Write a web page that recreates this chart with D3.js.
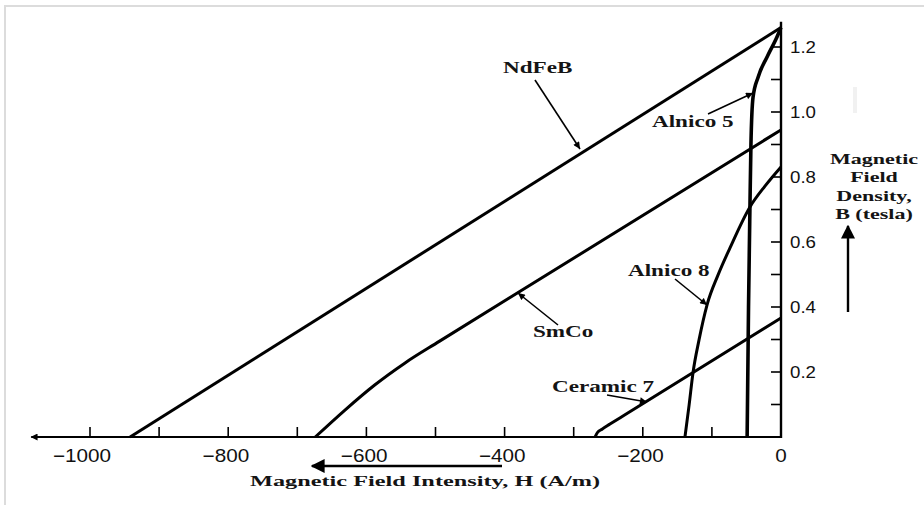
<!DOCTYPE html>
<html><head><meta charset="utf-8">
<script src="https://cdn.jsdelivr.net/npm/d3@7/dist/d3.min.js"></script>
<style>body{margin:0;background:#fff;}svg{display:block;}</style>
</head><body>
<svg id="chart" width="924" height="505"></svg>
<script>
// ---------- data ----------
const xTickValues = [-1000, -800, -600, -400, -200, 0];
const xMinorTicks = [-1000, -900, -800, -700, -600, -500, -400, -300, -200, -100];
const yTickValues = [0.2, 0.4, 0.6, 0.8, 1.0, 1.2];
const yMinorTicks = [0.1, 0.2, 0.3, 0.4, 0.5, 0.6, 0.7, 0.8, 0.9, 1.0, 1.1, 1.2];

const ndfebH = [-942, 0];
const ndfebB = [0, 1.26];
const smcoH = [-674, -631, -588, -544, -494, 0];
const smcoB = [0, 0.083, 0.16, 0.228, 0.295, 0.945];
const ceramicH = [-269, -265.6, -259, -247.5, -225.8, 0];
const ceramicB = [0, 0.0138, 0.024, 0.0397, 0.0686, 0.366];
const alnico8H = [-139, -133, -127.4, -118.7, -107.1, -91.2, -73.8, -44.9, -23.2, 0];
const alnico8B = [0, 0.098, 0.197, 0.298, 0.406, 0.498, 0.582, 0.708, 0.772, 0.831];
const alnico5H = [-49, -47, -45, -43.5, -40.5, -33, -20, -6, 0];
const alnico5B = [0, 0.4, 0.7, 0.9, 1.045, 1.108, 1.17, 1.23, 1.26];

const seriesNames = ["NdFeB", "SmCo", "Ceramic 7", "Alnico 8", "Alnico 5"];
const xAxisTitle = "Magnetic Field Intensity, H (A/m)";
const yAxisTitle = ["Magnetic", "Field", "Density,", "B (tesla)"];

// ---------- layout ----------
const svg = d3.select("#chart");
const x = d3.scaleLinear().domain([-1000, 0]).range([90, 781]);
const y = d3.scaleLinear().domain([0, 1.2]).range([437, 47]);

const series = [
  {H: ndfebH, B: ndfebB, w: 3},
  {H: smcoH, B: smcoB, w: 3},
  {H: ceramicH, B: ceramicB, w: 3},
  {H: alnico8H, B: alnico8B, w: 3},
  {H: alnico5H, B: alnico5B, w: 3.6}
];

const annotations = [
  {name: seriesNames[0], tx: 503, ty: 73, a: [535, 80, 580, 149]},
  {name: seriesNames[4], tx: 652, ty: 127, a: [708, 114, 753, 93]},
  {name: seriesNames[1], tx: 533, ty: 337, a: [558, 325, 518, 293]},
  {name: seriesNames[3], tx: 628, ty: 276, a: [675, 279, 707, 305]},
  {name: seriesNames[2], tx: 552, ty: 392, a: [607, 395, 647, 402]}
];

// frame
svg.append("rect").attr("x", 5).attr("y", 6).attr("width", 940).attr("height", 520)
  .attr("fill", "none").attr("stroke", "#dcdcdc").attr("stroke-width", 2);
svg.append("rect").attr("x", 853).attr("y", 87).attr("width", 4).attr("height", 26).attr("fill", "#f1f1f1");

const defs = svg.append("defs");
defs.append("marker").attr("id", "ah").attr("viewBox", "0 0 10 10")
  .attr("refX", 10).attr("refY", 5).attr("markerWidth", 9).attr("markerHeight", 7)
  .attr("markerUnits", "userSpaceOnUse").attr("orient", "auto")
  .append("path").attr("d", "M0,0L10,5L0,10Z").attr("fill", "#000");
defs.append("marker").attr("id", "big").attr("viewBox", "0 0 10 10")
  .attr("refX", 9).attr("refY", 5).attr("markerWidth", 14).attr("markerHeight", 14)
  .attr("markerUnits", "userSpaceOnUse").attr("orient", "auto")
  .append("path").attr("d", "M0,0L10,5L0,10Z").attr("fill", "#000");
defs.append("marker").attr("id", "small").attr("viewBox", "0 0 10 10")
  .attr("refX", 9).attr("refY", 5).attr("markerWidth", 10).attr("markerHeight", 7)
  .attr("markerUnits", "userSpaceOnUse").attr("orient", "auto")
  .append("path").attr("d", "M0,0L10,5L0,10Z").attr("fill", "#000");

// x axis
svg.append("line").attr("x1", x(0)).attr("x2", x(-1085)).attr("y1", y(0)).attr("y2", y(0))
  .attr("stroke", "#000").attr("stroke-width", 2).attr("marker-end", "url(#small)");
svg.selectAll(".xt").data(xMinorTicks).join("line")
  .attr("x1", d => x(d)).attr("x2", d => x(d)).attr("y1", y(0)).attr("y2", y(0) - 10)
  .attr("stroke", "#000").attr("stroke-width", 1.6);
svg.selectAll(".xl").data(xTickValues).join("text")
  .attr("transform", d => `translate(${d === 0 ? x(d) : x(d) + 21},462) scale(1.15,1)`)
  .attr("text-anchor", d => d === 0 ? "middle" : "end")
  .attr("font-family", "Liberation Sans, Arial, sans-serif").attr("font-size", 18)
  .attr("fill", "#111")
  .text(d => d === 0 ? "0" : "\u2212" + Math.abs(d));

// y axis
svg.append("line").attr("x1", x(0)).attr("x2", x(0)).attr("y1", y(0) + 1).attr("y2", y(1.278))
  .attr("stroke", "#000").attr("stroke-width", 2.4);
svg.selectAll(".yt").data(yMinorTicks).join("line")
  .attr("x1", x(0)).attr("x2", x(0) - 10).attr("y1", d => y(d)).attr("y2", d => y(d))
  .attr("stroke", "#000").attr("stroke-width", 1.6);
svg.selectAll(".yl").data(yTickValues).join("text")
  .attr("transform", d => `translate(790,${y(d) + 6}) scale(1.1,1)`)
  .attr("font-family", "Liberation Sans, Arial, sans-serif").attr("font-size", 17)
  .attr("fill", "#111")
  .text(d => d3.format(".1f")(d));

// curves
const line = d3.line().x(d => x(d[0])).y(d => y(d[1])).curve(d3.curveMonotoneX);
series.forEach(s => {
  const pts = s.H.map((h, i) => [h, s.B[i]]);
  svg.append("path").attr("d", line(pts)).attr("fill", "none")
    .attr("stroke", "#000").attr("stroke-width", s.w).attr("stroke-linejoin", "round");
});

// annotations
const serif = "Liberation Serif, Times New Roman, serif";
annotations.forEach(a => {
  svg.append("line").attr("x1", a.a[0]).attr("y1", a.a[1]).attr("x2", a.a[2]).attr("y2", a.a[3])
    .attr("stroke", "#000").attr("stroke-width", 1.6).attr("marker-end", "url(#ah)");
  svg.append("text").attr("transform", `translate(${a.tx},${a.ty}) scale(1.36,1)`)
    .attr("font-family", serif).attr("font-weight", "bold").attr("font-size", 17)
    .attr("fill", "#141414").text(a.name);
});

// axis titles
svg.append("line").attr("x1", 502).attr("x2", 312).attr("y1", 466).attr("y2", 466)
  .attr("stroke", "#000").attr("stroke-width", 2.4).attr("marker-end", "url(#big)");
svg.append("text").attr("transform", "translate(250,486) scale(1.62,1)")
  .attr("font-family", serif).attr("font-weight", "bold").attr("font-size", 15)
  .attr("fill", "#141414").text(xAxisTitle);

svg.append("line").attr("x1", 848).attr("x2", 848).attr("y1", 312).attr("y2", 226)
  .attr("stroke", "#000").attr("stroke-width", 2.4).attr("marker-end", "url(#big)");
yAxisTitle.forEach((t, i) => {
  svg.append("text").attr("transform", `translate(874,${164 + i * 18.3}) scale(1.47,1)`)
    .attr("text-anchor", "middle")
    .attr("font-family", serif).attr("font-weight", "bold").attr("font-size", 15)
    .attr("fill", "#141414").text(t);
});
</script>
</body></html>
